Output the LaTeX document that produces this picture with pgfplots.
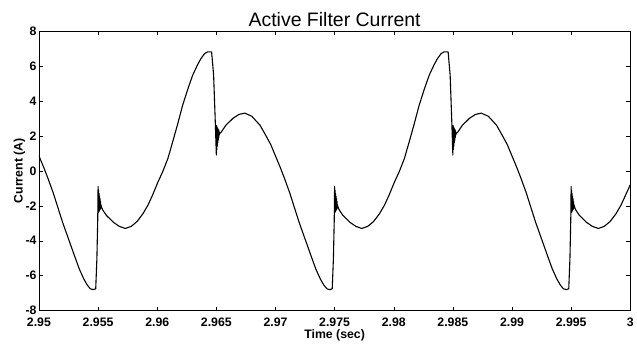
\documentclass[border=0pt]{standalone}
\usepackage{pgfplots}
\pgfplotsset{compat=1.18}
\usepackage{fontspec}
\setmainfont{Liberation Sans}
\begin{document}
\begin{tikzpicture}
\begin{axis}[
  at={(0,0)}, anchor=south west,
  scale only axis, width=592pt, height=280pt,
  xmin=0, xmax=50, ymin=-8, ymax=8,
  xtick={0,5,10,15,20,25,30,35,40,45,50},
  xticklabels={2.95,2.955,2.96,2.965,2.97,2.975,2.98,2.985,2.99,2.995,3},
  ytick={-8,-6,-4,-2,0,2,4,6,8},
  xtick pos=both, ytick pos=both,
  tick align=inside,
  major tick length=4pt,
  tick style={black, line width=0.4pt},
  axis line style={black, line width=0.5pt},
  /pgf/number format/assume math mode=true,
  ticklabel style={font=\bfseries\fontsize{12.3}{14}\selectfont},
  xticklabel style={anchor=base, yshift=-16pt},
  yticklabel style={anchor=east, inner sep=0pt, xshift=-2.3pt},
  every axis title/.style={at={(rel axis cs:0.5,1)}, anchor=base, yshift=4.3pt, font=\fontsize{19.5}{22}\selectfont},
  every axis x label/.style={at={(rel axis cs:0.5,0)}, anchor=base, yshift=-27.5pt, font=\bfseries\fontsize{12.3}{14}\selectfont},
  every axis y label/.style={at={(rel axis cs:-0.0275,0.5)}, rotate=90, anchor=base, font=\bfseries\fontsize{12.3}{14}\selectfont},
  title={Active Filter Current},
  xlabel={Time (sec)},
  ylabel={Current (A)},
]
\addplot[black, line width=1.1pt, line join=round] coordinates {
(0.00,0.85) (0.40,0.2) (0.76,-0.43) (1.20,-1.25) (1.60,-2.1) (2.00,-2.95) (2.50,-3.9) (3.00,-4.85) (3.40,-5.6) (3.80,-6.2) (4.10,-6.55) (4.35,-6.75) (4.60,-6.8) (4.80,-6.75) (4.90,-5.0) (4.97,-2.8)
(5.00,-0.9) (5.02,-2.4) (5.04,-1.1) (5.06,-2.35) (5.08,-1.3) (5.10,-2.3) (5.12,-1.45) (5.14,-2.25) (5.16,-1.6) (5.18,-2.2) (5.20,-1.75) (5.22,-2.15) (5.25,-1.95) (5.30,-2.1) (5.40,-2.25) (5.70,-2.55) (6.30,-2.95) (6.80,-3.18) (7.30,-3.3) (7.80,-3.18) (8.30,-2.9) (8.80,-2.45) (9.22,-1.96) (9.60,-1.4) (10.07,-0.63) (10.46,-0.06) (10.90,0.7) (11.31,1.66) (11.70,2.6) (12.15,3.75) (12.60,4.7) (13.00,5.47) (13.40,6.05) (13.70,6.42) (14.00,6.7) (14.25,6.8) (14.60,6.8) (14.77,5.47) (14.90,3.0)
(15.00,0.9) (15.02,2.6) (15.04,1.2) (15.06,2.5) (15.08,1.4) (15.10,2.45) (15.12,1.6) (15.14,2.4) (15.16,1.75) (15.18,2.35) (15.20,1.9) (15.22,2.3) (15.25,2.05) (15.30,2.15) (15.40,2.2) (15.80,2.6) (16.40,3.0) (16.90,3.22) (17.40,3.3) (18.00,3.12) (18.70,2.6) (19.20,2.0) (19.60,1.5) (20.00,0.85) (20.40,0.2) (20.76,-0.43) (21.20,-1.25) (21.60,-2.1) (22.00,-2.95) (22.50,-3.9) (23.00,-4.85) (23.40,-5.6) (23.80,-6.2) (24.10,-6.55) (24.35,-6.75) (24.60,-6.8) (24.80,-6.75) (24.90,-5.0) (24.97,-2.8)
(25.00,-0.9) (25.02,-2.4) (25.04,-1.1) (25.06,-2.35) (25.08,-1.3) (25.10,-2.3) (25.12,-1.45) (25.14,-2.25) (25.16,-1.6) (25.18,-2.2) (25.20,-1.75) (25.22,-2.15) (25.25,-1.95) (25.30,-2.1) (25.40,-2.25) (25.70,-2.55) (26.30,-2.95) (26.80,-3.18) (27.30,-3.3) (27.80,-3.18) (28.30,-2.9) (28.80,-2.45) (29.22,-1.96) (29.60,-1.4) (30.07,-0.63) (30.46,-0.06) (30.90,0.7) (31.31,1.66) (31.70,2.6) (32.15,3.75) (32.60,4.7) (33.00,5.47) (33.40,6.05) (33.70,6.42) (34.00,6.7) (34.25,6.8) (34.60,6.8) (34.77,5.47) (34.90,3.0)
(35.00,0.9) (35.02,2.6) (35.04,1.2) (35.06,2.5) (35.08,1.4) (35.10,2.45) (35.12,1.6) (35.14,2.4) (35.16,1.75) (35.18,2.35) (35.20,1.9) (35.22,2.3) (35.25,2.05) (35.30,2.15) (35.40,2.2) (35.80,2.6) (36.40,3.0) (36.90,3.22) (37.40,3.3) (38.00,3.12) (38.70,2.6) (39.20,2.0) (39.60,1.5) (40.00,0.85) (40.40,0.2) (40.76,-0.43) (41.20,-1.25) (41.60,-2.1) (42.00,-2.95) (42.50,-3.9) (43.00,-4.85) (43.40,-5.6) (43.80,-6.2) (44.10,-6.55) (44.35,-6.75) (44.60,-6.8) (44.80,-6.75) (44.90,-5.0) (44.97,-2.8)
(45.00,-0.9) (45.02,-2.4) (45.04,-1.1) (45.06,-2.35) (45.08,-1.3) (45.10,-2.3) (45.12,-1.45) (45.14,-2.25) (45.16,-1.6) (45.18,-2.2) (45.20,-1.75) (45.22,-2.15) (45.25,-1.95) (45.30,-2.1) (45.40,-2.25) (45.70,-2.55) (46.30,-2.95) (46.80,-3.18) (47.30,-3.3) (47.80,-3.18) (48.30,-2.9) (48.80,-2.45) (49.22,-1.96) (49.60,-1.4) (50.00,-0.8)
};
\end{axis}
\path (-39pt,-34pt) rectangle (598pt,311pt);
\end{tikzpicture}
\end{document}
